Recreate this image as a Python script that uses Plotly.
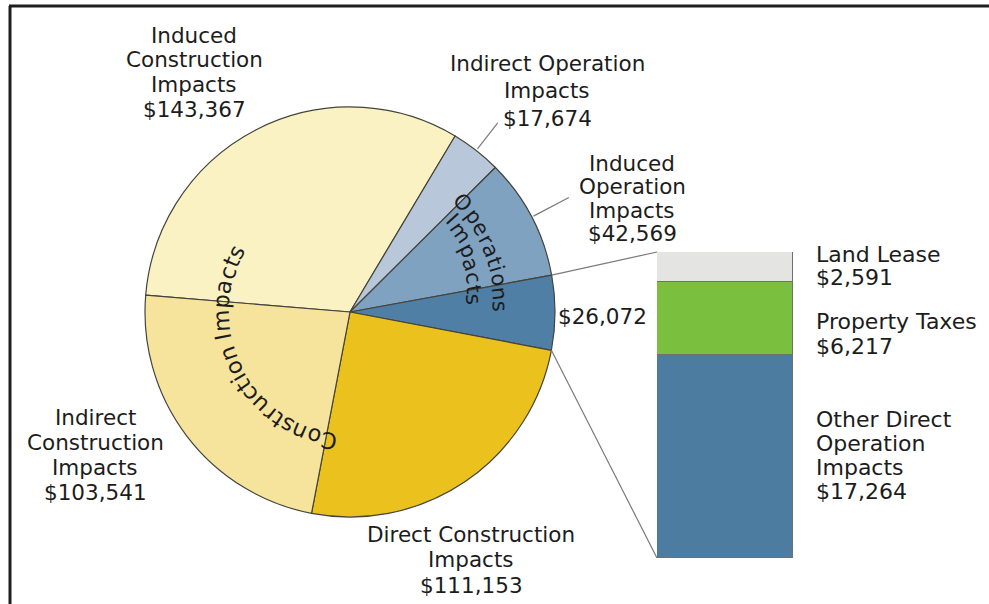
import math
import plotly.graph_objects as go

# ---- data -----------------------------------------------------------------
# Pie slices, listed clockwise starting at the upper-left boundary
slice_names = [
    "Induced<br>Construction<br>Impacts",
    "Indirect Operation<br>Impacts",
    "Induced<br>Operation<br>Impacts",
    "Direct Operation Impacts",
    "Direct Construction<br>Impacts",
    "Indirect<br>Construction<br>Impacts",
]
slice_values = [143367, 17674, 42569, 26072, 111153, 103541]
slice_colors = ["#FBF2C4", "#B8C8DA", "#80A2C1", "#4F7FA4", "#EBC11E", "#F6E39C"]

# Breakdown of direct operation impacts (stacked bottom to top)
breakdown_names = ["Other Direct<br>Operation<br>Impacts", "Property Taxes", "Land Lease"]
breakdown_values = [17264, 6217, 2591]
breakdown_colors = ["#4D7CA1", "#7BBF3F", "#E4E4E2"]

# ---- geometry (pixels) ----------------------------------------------------
W, H = 989, 604
CX, CY, R = 350, 312, 205
ROTATION = -85.3
BAR_X0, BAR_X1, BAR_TOP, BAR_BOTTOM = 657, 793, 252, 558

FONT = "DejaVu Sans"
TEXT_COLOR = "#1c1c1c"


def px(x):
    return x / W


def py(y):
    return 1 - y / H


def on_circle(theta_deg, r):
    t = math.radians(theta_deg)
    return CX + r * math.cos(t), CY - r * math.sin(t)


total = sum(slice_values)
start_angle = 90 - ROTATION
bounds = [start_angle]
acc = 0
for v in slice_values:
    acc += v
    bounds.append(start_angle - 360 * acc / total)

fig = go.Figure()

fig.add_trace(go.Pie(
    labels=[n.replace("<br>", " ") for n in slice_names],
    values=slice_values,
    sort=False,
    direction="clockwise",
    rotation=ROTATION,
    textinfo="none",
    hoverinfo="label+value",
    marker=dict(colors=slice_colors, line=dict(color="#44443c", width=1.2)),
    domain=dict(x=[px(CX - R), px(CX + R)], y=[py(CY + R), py(CY - R)]),
    showlegend=False,
))

for name, val, col in zip(breakdown_names, breakdown_values, breakdown_colors):
    fig.add_trace(go.Bar(
        x=[0], y=[val], width=1,
        name=name.replace("<br>", " "),
        marker=dict(color=col, line=dict(color="#707070", width=1)),
        xaxis="x2", yaxis="y2", showlegend=False,
        hovertemplate=name.replace("<br>", " ") + ": $%{y:,}<extra></extra>",
    ))

annotations = []


def add_lines(lines, x, y0, pitch, size=21.5, anchor="center"):
    for i, line in enumerate(lines):
        annotations.append(dict(
            x=px(x), y=py(y0 + i * pitch), xref="paper", yref="paper",
            text=line, showarrow=False, xanchor=anchor, yanchor="middle",
            font=dict(family=FONT, size=size, color=TEXT_COLOR),
        ))


def money(v):
    return f"${v:,}"


# slice labels: (slice index, x, first line y, line pitch)
slice_label_pos = {
    0: (194, 35, 24.7),
    1: (547, 63, 28),
    2: (632, 163, 23.5),
    4: (471, 534, 25.5),
    5: (95, 417, 25.3),
}
for idx, (x, y0, pitch) in slice_label_pos.items():
    lines = slice_names[idx].split("<br>") + [money(slice_values[idx])]
    add_lines(lines, x, y0, pitch)

# direct operation total beside its slice
add_lines([money(slice_values[3])], 602, 316, 0)

# breakdown labels, left aligned next to the bar
bar_label_pos = [(419, 24.3), (321, 25), (254, 23)]
for name, val, (y0, pitch) in zip(breakdown_names, breakdown_values, bar_label_pos):
    add_lines(name.split("<br>") + [money(val)], 814, y0, pitch, size=22, anchor="left")

# ---- text set along arcs inside the pie -----------------------------------
ADV = {"C": 698, "o": 612, "n": 634, "s": 521, "t": 392, "r": 411, "u": 634,
       "c": 550, "i": 278, " ": 318, "I": 295, "m": 974, "p": 635, "a": 613,
       "O": 787, "e": 615}


def arc_text(text, th0, th1, r0, r1, size=21):
    widths = [ADV.get(ch, 600) for ch in text]
    span = sum(widths) - widths[0] / 2 - widths[-1] / 2
    run = 0
    for i, ch in enumerate(text):
        f = (run + widths[i] / 2 - widths[0] / 2) / span
        run += widths[i]
        if ch == " ":
            continue
        th = th0 + f * (th1 - th0)
        r = r0 + f * (r1 - r0)
        x, y = on_circle(th, r)
        ang = 90 - th
        ang = (ang + 180) % 360 - 180
        annotations.append(dict(
            x=px(x), y=py(y), xref="paper", yref="paper", text=ch,
            showarrow=False, xanchor="center", yanchor="middle", textangle=ang,
            font=dict(family=FONT, size=size, color=TEXT_COLOR),
        ))


arc_text("Construction Impacts", -99.3, -207.8, 130, 129, size=22.5)
arc_text("Operations", 44, 2, 157, 150)
arc_text("Impacts", 42.4, 6, 138, 124)

# ---- connector and leader lines -------------------------------------------
shapes = []


def seg(x0, y0, x1, y1, color="#7a7a7a", width=1.2):
    shapes.append(dict(type="line", xref="paper", yref="paper",
                       x0=px(x0), y0=py(y0), x1=px(x1), y1=py(y1),
                       line=dict(color=color, width=width)))


# direct operation slice edges to the breakdown bar corners
ax, ay = on_circle(bounds[3], R)
bx, by = on_circle(bounds[4], R)
seg(ax, ay, BAR_X0, BAR_TOP)
seg(bx, by, BAR_X0, BAR_BOTTOM)

# leaders for the small operation slices
for idx, r_out in ((1, 240), (2, 247)):
    mid = (bounds[idx] + bounds[idx + 1]) / 2
    x0, y0 = on_circle(mid, R + 2)
    x1, y1 = on_circle(mid, r_out)
    seg(x0, y0, x1, y1)

# frame
seg(9, 6, W, 6, color="#1e1e1e", width=3)
seg(10, 6, 10, H, color="#1e1e1e", width=3)

fig.update_layout(
    width=W, height=H,
    margin=dict(l=0, r=0, t=0, b=0),
    paper_bgcolor="white", plot_bgcolor="rgba(0,0,0,0)",
    barmode="stack", bargap=0,
    showlegend=False,
    xaxis2=dict(domain=[px(BAR_X0), px(BAR_X1)], range=[-0.5, 0.5],
                visible=False, anchor="y2", fixedrange=True),
    yaxis2=dict(domain=[py(BAR_BOTTOM), py(BAR_TOP)], range=[0, sum(breakdown_values)],
                visible=False, anchor="x2", fixedrange=True),
    annotations=annotations,
    shapes=shapes,
)

fig.write_html("out.html")
